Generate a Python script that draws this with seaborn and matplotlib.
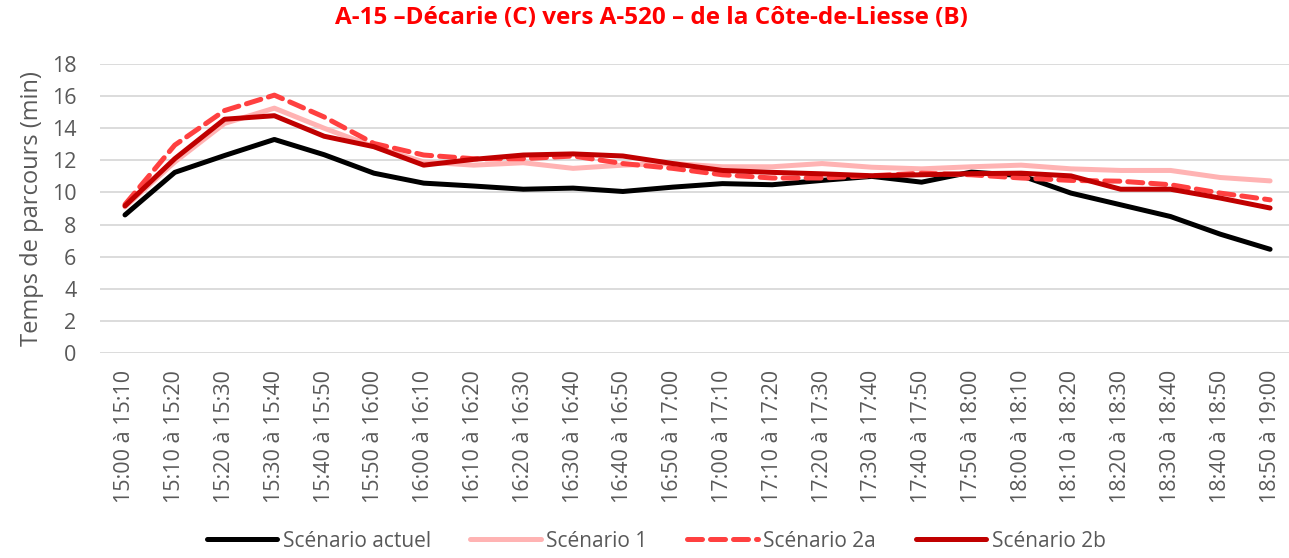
import numpy as np
import pandas as pd
import matplotlib.pyplot as plt
import seaborn as sns

PERIODS = [
    "15:00 à 15:10", "15:10 à 15:20", "15:20 à 15:30", "15:30 à 15:40",
    "15:40 à 15:50", "15:50 à 16:00", "16:00 à 16:10", "16:10 à 16:20",
    "16:20 à 16:30", "16:30 à 16:40", "16:40 à 16:50", "16:50 à 17:00",
    "17:00 à 17:10", "17:10 à 17:20", "17:20 à 17:30", "17:30 à 17:40",
    "17:40 à 17:50", "17:50 à 18:00", "18:00 à 18:10", "18:10 à 18:20",
    "18:20 à 18:30", "18:30 à 18:40", "18:40 à 18:50", "18:50 à 19:00",
]

ACTUEL = [8.6, 11.25, 12.3, 13.3, 12.35, 11.2, 10.58, 10.4, 10.2, 10.27,
          10.06, 10.33, 10.55, 10.48, 10.75, 11.0, 10.64, 11.27, 11.05, 9.96,
          9.23, 8.5, 7.4, 6.46]
SCEN_1 = [9.1, 11.9, 14.3, 15.25, 14.0, 12.85, 11.9, 11.7, 11.85, 11.5,
          11.7, 11.8, 11.6, 11.6, 11.8, 11.57, 11.47, 11.6, 11.7, 11.47,
          11.37, 11.37, 10.93, 10.72]
SCEN_2A = [9.25, 12.95, 15.1, 16.06, 14.7, 13.05, 12.33, 12.1, 12.1, 12.27,
           11.8, 11.5, 11.1, 10.9, 10.9, 11.04, 11.2, 11.1, 10.9, 10.75,
           10.7, 10.48, 9.96, 9.54]
SCEN_2B = [9.16, 12.1, 14.56, 14.78, 13.5, 12.85, 11.7, 12.06, 12.33, 12.4,
           12.27, 11.8, 11.37, 11.25, 11.16, 11.04, 11.1, 11.17, 11.2, 11.03,
           10.2, 10.2, 9.65, 9.03]

SERIES = {
    "Scénario actuel": ACTUEL,
    "Scénario 1": SCEN_1,
    "Scénario 2a": SCEN_2A,
    "Scénario 2b": SCEN_2B,
}
COLORS = {
    "Scénario actuel": "#000000",
    "Scénario 1": "#FFB3B3",
    "Scénario 2a": "#FF4040",
    "Scénario 2b": "#C00000",
}

sns.set_style("white")
plt.rcParams["font.family"] = ["Open Sans", "DejaVu Sans"]

df = pd.DataFrame(
    [(i, name, v) for name, vals in SERIES.items() for i, v in enumerate(vals)],
    columns=["idx", "scenario", "temps"],
)

fig = plt.figure(figsize=(12.89, 5.58), dpi=100)
ax = fig.add_axes([100 / 1289, (558 - 353) / 558, 1189 / 1289, 289 / 558])

for name in SERIES:
    sub = df[df["scenario"] == name]
    line = sns.lineplot(
        data=sub, x="idx", y="temps", ax=ax, color=COLORS[name],
        linewidth=3.6, label=name, solid_capstyle="round",
    ).lines[-1]
    if name == "Scénario 2a":
        line.set_dashes((3, 1.6))
        line.set_dash_capstyle("round")

ax.set_xlim(-0.502, 23.38)
ax.set_ylim(0, 18)
ax.set_yticks(np.arange(0, 19, 2))
ax.set_xticks(range(len(PERIODS)))
ax.set_xticklabels(PERIODS, rotation=90)
ax.tick_params(axis="both", colors="#595959", labelsize=15.5, length=0)
ax.tick_params(axis="y", pad=17)
ax.tick_params(axis="x", pad=12)
ax.yaxis.grid(True, color="#D9D9D9", linewidth=1.3)
ax.set_axisbelow(True)
for s in ax.spines.values():
    s.set_visible(False)

ax.set_xlabel("")
ax.set_ylabel("Temps de parcours (min)", color="#595959", fontsize=17)
ax.yaxis.set_label_coords(-0.047, 0.5)

fig.suptitle("A-15 –Décarie (C) vers A-520 – de la Côte-de-Liesse (B)",
             color="#FF0000", fontweight="bold", fontsize=17.5, y=0.99,
             x=(333 + 970) / 2 / 1289)

ax.legend(loc="center", bbox_to_anchor=(0.509, 0.03),
          bbox_transform=fig.transFigure, ncol=4, frameon=False,
          fontsize=15, handlelength=3.4, handletextpad=0.25,
          columnspacing=1.9, labelcolor="#595959")

fig.savefig("out.png", dpi=100)
